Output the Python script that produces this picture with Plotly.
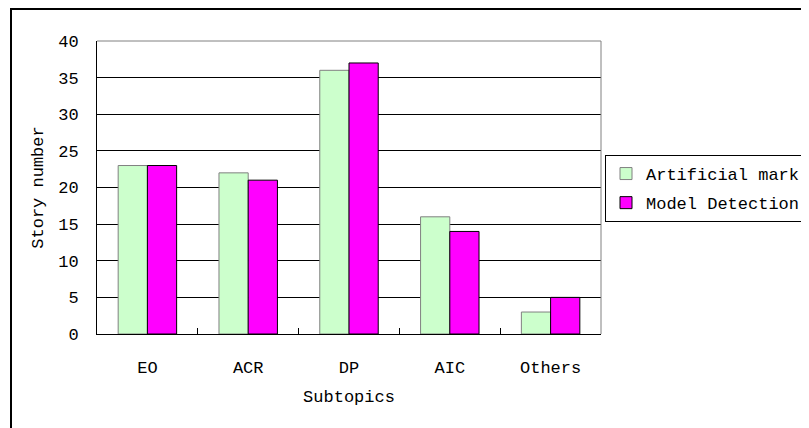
import plotly.graph_objects as go

categories = ["EO", "ACR", "DP", "AIC", "Others"]
artificial_mark = [23, 22, 36, 16, 3]
model_detection = [23, 21, 37, 14, 5]
y_ticks = [0, 5, 10, 15, 20, 25, 30, 35, 40]

FONT = "Liberation Mono"
W, H = 809, 428
OFF = 8  # page body margin offset
L, R, T, B = 97 - OFF, 601 - OFF, 41 - OFF, 334 - OFF  # plot area in figure pixels

fig = go.Figure()
fig.add_trace(go.Bar(
    x=categories, y=artificial_mark, name="Artificial mark",
    marker=dict(color="#CCFFCC", line=dict(color="#808080", width=1)),
    legendgroup="a",
))
fig.add_trace(go.Bar(
    x=categories, y=model_detection, name="Model Detection",
    marker=dict(color="#FF00FF", line=dict(color="#000000", width=1)),
    legendgroup="b",
))

px = lambda x: (x - OFF - L) / (R - L)
py = lambda y: (B - (y - OFF)) / (B - T)

fig.update_layout(
    width=W, height=H,
    margin=dict(l=L, r=W - R, t=T, b=H - B, autoexpand=False),
    paper_bgcolor="white", plot_bgcolor="white",
    font=dict(family=FONT, size=17, color="black"),
    barmode="group", bargap=0.42, bargroupgap=0,
    showlegend=True,
    legend=dict(
        x=px(605), y=py(155), xanchor="left", yanchor="top",
        bordercolor="black", borderwidth=1, bgcolor="white",
        font=dict(family=FONT, size=17, color="black"),
        traceorder="grouped", tracegroupgap=4,
    ),
    xaxis=dict(
        type="category", range=[-0.5, 4.5],
        showline=True, linecolor="black", linewidth=1,
        ticks="inside", ticklen=6, tickcolor="black", tickson="boundaries",
        ticklabelstandoff=18,
        showgrid=False,
        title=dict(text="Subtopics", standoff=12, font=dict(family=FONT, size=17)),
        automargin=False,
    ),
    yaxis=dict(
        range=[0, 40], tickvals=y_ticks,
        showline=True, linecolor="black", linewidth=1,
        ticks="inside", ticklen=6, tickcolor="black",
        ticklabelstandoff=14,
        showgrid=True, gridcolor="black", gridwidth=1,
        zeroline=False,
        title=dict(text="Story number", standoff=10, font=dict(family=FONT, size=17)),
        automargin=False,
    ),
    shapes=[
        # gray top and right borders of the plot area
        dict(type="line", xref="paper", yref="paper", x0=0, x1=1, y0=1, y1=1,
             line=dict(color="#808080", width=1), layer="above"),
        dict(type="line", xref="paper", yref="paper", x0=1, x1=1, y0=0, y1=1,
             line=dict(color="#808080", width=1), layer="above"),
        # outer chart border (extends past the canvas on right/bottom)
        dict(type="rect", xref="paper", yref="paper",
             x0=px(11), x1=px(W + 30), y0=py(H + 30), y1=py(9),
             line=dict(color="black", width=2), layer="above"),
    ],
)

fig.write_html("out.html")
